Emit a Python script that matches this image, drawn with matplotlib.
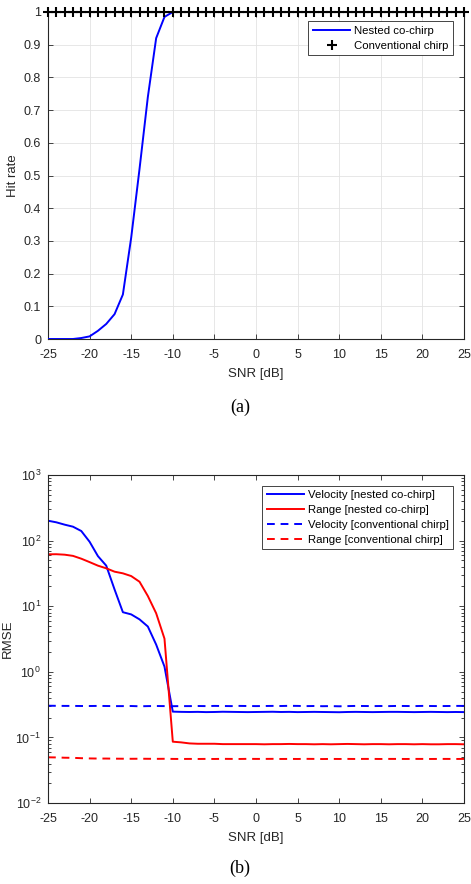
import numpy as np
import matplotlib
matplotlib.use("Agg")
import matplotlib.pyplot as plt
from matplotlib.ticker import LogLocator, NullFormatter

plt.rcParams['font.family'] = ['Liberation Sans', 'DejaVu Sans']
plt.rcParams['axes.unicode_minus'] = False
plt.rcParams['mathtext.fontset'] = 'custom'
plt.rcParams['mathtext.rm'] = 'Liberation Sans'
plt.rcParams['mathtext.it'] = 'Liberation Sans:italic'
plt.rcParams['mathtext.bf'] = 'Liberation Sans:bold'

snr = list(range(-25, 26))

hit_nested = [0.0, 0.0, 0.0, 0.0, 0.003, 0.008, 0.025, 0.046, 0.076, 0.136,
              0.31, 0.52, 0.74, 0.92, 0.985, 1.0] + [1.0] * 35
hit_conv = [1.0] * 51

vel_nested = [201, 190, 175, 163, 140, 96, 58, 41.5, 18, 8.1,
              7.5, 6.3, 4.9, 2.6, 1.2, 0.247,
              0.245, 0.244, 0.245, 0.243, 0.244, 0.246, 0.245, 0.244, 0.243, 0.244,
              0.245, 0.246, 0.244, 0.245, 0.243, 0.244, 0.245, 0.244, 0.243, 0.242,
              0.244, 0.245, 0.244, 0.243, 0.244, 0.245, 0.245, 0.244, 0.243, 0.244,
              0.245, 0.244, 0.243, 0.244, 0.243]
rng_nested = [61.8, 62, 61, 58.5, 53, 47, 41.5, 37.8, 33.6, 31.7,
              28.8, 23.6, 14.3, 7.8, 3.2, 0.086,
              0.084, 0.081, 0.080, 0.080, 0.080, 0.079, 0.079, 0.079, 0.079, 0.079,
              0.0785, 0.079, 0.079, 0.0795, 0.079, 0.079, 0.0785, 0.079, 0.0785, 0.079,
              0.0795, 0.079, 0.0785, 0.079, 0.079, 0.0785, 0.079, 0.079, 0.0785, 0.079,
              0.0785, 0.0785, 0.079, 0.079, 0.0785]
vel_conv = [0.304, 0.303, 0.302, 0.302, 0.301, 0.301, 0.302, 0.301, 0.300, 0.300,
            0.301, 0.298, 0.300, 0.301, 0.300, 0.299,
            0.300, 0.300, 0.301, 0.300, 0.302, 0.301, 0.300, 0.302, 0.301, 0.300,
            0.301, 0.302, 0.301, 0.303, 0.302, 0.300, 0.301, 0.299, 0.300, 0.298,
            0.300, 0.302, 0.301, 0.300, 0.301, 0.300, 0.302, 0.301, 0.300, 0.302,
            0.301, 0.300, 0.301, 0.302, 0.302]
rng_conv = [0.0497, 0.0495, 0.049, 0.0488, 0.0482, 0.0478, 0.0476, 0.0476, 0.0474, 0.0473,
            0.0472, 0.0473, 0.0472, 0.0471, 0.0472, 0.0470,
            0.0469, 0.0470, 0.0469, 0.0470, 0.0469, 0.0471, 0.0470, 0.0469, 0.0471, 0.0470,
            0.0470, 0.0471, 0.0469, 0.0470, 0.0469, 0.0471, 0.0470, 0.0468, 0.0470, 0.0469,
            0.0470, 0.0469, 0.0470, 0.0470, 0.0469, 0.0470, 0.0470, 0.0469, 0.0470, 0.0470,
            0.0469, 0.0470, 0.0470, 0.0469, 0.0470]

W, H = 471, 884
fig = plt.figure(figsize=(W / 100, H / 100), dpi=100)

def rect(l, t, r, b):
    return [l / W, 1 - b / H, (r - l) / W, (b - t) / H]

txtc = '#262626'

def style(ax):
    ax.tick_params(which='both', direction='in', top=True, right=True,
                   labelsize=9, colors=txtc, length=3.5, width=0.6, pad=5)
    ax.tick_params(axis='x', pad=7)
    ax.tick_params(which='minor', length=2)
    for s in ax.spines.values():
        s.set_linewidth(0.8)
        s.set_color('#262626')

# Top plot
ax1 = fig.add_axes(rect(48, 12, 464, 339))
ax1.plot(snr, hit_nested, color='#0000ff', lw=1.4, label='Nested co-chirp', zorder=3)
ax1.plot(snr, hit_conv, ls='none', marker='+', color='black', ms=6.5, mew=1.5,
         label='Conventional chirp', zorder=4, clip_on=False)
ax1.set_xlim(-25, 25)
ax1.set_ylim(0, 1)
ax1.set_xticks(range(-25, 26, 5))
ax1.set_yticks(np.arange(0, 1.01, 0.1))
ax1.set_yticklabels(['0', '0.1', '0.2', '0.3', '0.4', '0.5', '0.6', '0.7', '0.8', '0.9', '1'])
ax1.grid(True, color='#e3e3e3', lw=0.6)
ax1.set_axisbelow(True)
style(ax1)
ax1.set_xlabel('SNR [dB]', fontsize=9.5, color=txtc, labelpad=5)
ax1.set_ylabel('Hit rate', fontsize=9.5, color=txtc)
ax1.yaxis.set_label_coords(-0.069, 0.5)
leg1 = ax1.legend(loc='upper right', bbox_to_anchor=(0.9728, 0.9725), fontsize=8.2,
                  fancybox=False, edgecolor='#262626', framealpha=1,
                  borderpad=0.4, labelspacing=0.45, handlelength=3.3,
                  handletextpad=0.3, borderaxespad=0)
leg1.get_frame().set_linewidth(0.6)
fig.text(240 / W, 1 - 407 / H, '(a)', ha='center', va='center',
         fontsize=13, family='Liberation Serif')

# Bottom plot
ax2 = fig.add_axes(rect(48, 475, 464, 803))
ax2.semilogy(snr, vel_nested, color='#0000ff', lw=1.4, label='Velocity [nested co-chirp]')
ax2.semilogy(snr, rng_nested, color='#ff0000', lw=1.4, label='Range [nested co-chirp]')
ax2.semilogy(snr, vel_conv, color='#0000ff', lw=1.4, ls=(0, (4, 3)),
             label='Velocity [conventional chirp]')
ax2.semilogy(snr, rng_conv, color='#ff0000', lw=1.4, ls=(0, (4, 3)),
             label='Range [conventional chirp]')
ax2.set_xlim(-25, 25)
ax2.set_ylim(1e-2, 1e3)
ax2.set_xticks(range(-25, 26, 5))
ax2.yaxis.set_major_locator(LogLocator(base=10, numticks=10))
ax2.yaxis.set_minor_locator(LogLocator(base=10, subs=np.arange(2, 10), numticks=20))
ax2.yaxis.set_minor_formatter(NullFormatter())
style(ax2)
ax2.set_xlabel('SNR [dB]', fontsize=9.5, color=txtc, labelpad=5)
ax2.set_ylabel('RMSE', fontsize=9.5, color=txtc)
ax2.yaxis.set_label_coords(-0.083, 0.5)
leg2 = ax2.legend(loc='upper right', bbox_to_anchor=(0.9736, 0.967), fontsize=8.2,
                  fancybox=False, edgecolor='#262626', framealpha=1,
                  borderpad=0.4, labelspacing=0.42, handlelength=3.3,
                  handletextpad=0.3, borderaxespad=0)
leg2.get_frame().set_linewidth(0.6)
fig.text(240 / W, 1 - 868 / H, '(b)', ha='center', va='center',
         fontsize=13, family='Liberation Serif')

fig.savefig('out.png', dpi=100)
